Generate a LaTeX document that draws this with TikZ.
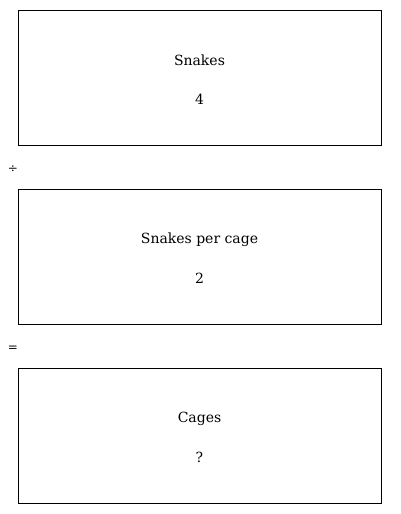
\documentclass[tikz,border=0pt]{standalone}
\usepackage{fontspec}
\setmainfont{DejaVu Serif}
\begin{document}
\begin{tikzpicture}[x=1pt,y=-1pt,
  box/.style={draw=black,line width=0.8pt,minimum width=363pt,minimum height=135pt,inner sep=0pt},
  lbl/.style={font=\fontsize{14}{16}\selectfont,inner sep=0pt,anchor=center},
  sym/.style={font=\fontsize{12}{14}\selectfont,inner sep=0pt,anchor=center}]
\useasboundingbox (0,0) rectangle (400,514);
\node[box] (b1) at (199.5,77.5) {};
\node[box] (b2) at (199.5,256.5) {};
\node[box] (b3) at (199.5,435.5) {};
\node[lbl] (t1) at (199.5,60.5) {Snakes};
\node[lbl] (n1) at (199.5,99.5) {4};
\node[lbl] (t2) at (199.5,239.5) {Snakes per cage};
\node[lbl] (n2) at (199.5,278.5) {2};
\node[lbl] (t3) at (199.5,418.5) {Cages};
\node[lbl] (n3) at (199.5,457.5) {?};
\node[sym] (div) at (13,169) {÷};
\node[sym] (eq) at (13,349) {=};
\end{tikzpicture}
\end{document}
